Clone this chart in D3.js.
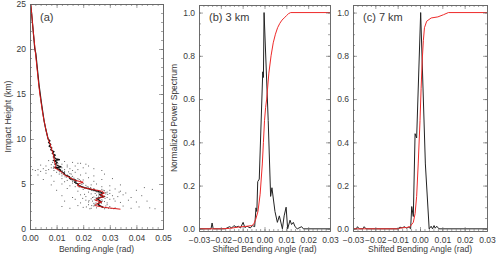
<!DOCTYPE html>
<html>
<head>
<meta charset="utf-8">
<script src="https://cdn.jsdelivr.net/npm/d3@7"></script>
<style>
  body { margin: 0; background: #fff; }
  svg { display: block; }
  text { font-family: "Liberation Sans", Arial, sans-serif; }
</style>
</head>
<body>
<svg id="chart" width="500" height="259"></svg>
<script>
// ---- données panneau (a) : [hauteur km, angle rad]
const redProfile = [
  [25,0.0003],[22,0.0012],[20,0.0019],[18,0.0026],[16,0.0033],[15,0.0037],[14,0.0042],
  [13,0.0047],[12,0.0053],[11,0.0060],[10,0.0068],[9.5,0.0075],[9,0.0080],[8.5,0.0085],
  [8,0.0090],[7.5,0.0092],[7.2,0.0095],[7.0,0.0098],[6.8,0.0092],[6.6,0.0105],[6.3,0.0120],
  [6.0,0.0130],[5.7,0.0150],[5.4,0.0170],[5.2,0.0200],[5.0,0.0180],[4.8,0.0178],[4.6,0.0200],
  [4.4,0.0235],[4.2,0.0270],[4.0,0.0280],[3.8,0.0265],[3.6,0.0280],[3.4,0.0255],[3.2,0.0245],
  [3.0,0.0270],[2.8,0.0250],[2.6,0.0245],[2.4,0.0280],[2.2,0.0340]
];
const blackProfile = [
  [25,0.0002],[24,0.0006],[22,0.0012],[20,0.0018],[19.5,0.0022],[18,0.0027],[16,0.0034],
  [14,0.0043],[12,0.0053],[11,0.0060],[10,0.0068],[9.8,0.0075],[9.6,0.0070],[9.4,0.0078],
  [9.2,0.0072],[9.0,0.0082],[8.8,0.0078],[8.6,0.0090],[8.4,0.0084],[8.2,0.0095],[8.0,0.0088],
  [7.8,0.0098],[7.7,0.0112],[7.6,0.0090],[7.4,0.0102],[7.2,0.0094],[7.0,0.0108],[6.9,0.0118],
  [6.8,0.0095],[6.6,0.0112],[6.4,0.0118],[6.2,0.0128],[6.0,0.0132],[5.8,0.0148],[5.6,0.0150],
  [5.4,0.0172],[5.2,0.0168],[5.0,0.0180],[4.8,0.0185],[4.6,0.0205],[4.4,0.0230],[4.2,0.0255],
  [4.0,0.0275],[3.8,0.0262],[3.6,0.0278],[3.4,0.0252],[3.2,0.0260],[3.0,0.0268],[2.8,0.0255],
  [2.6,0.0262],[2.4,0.0275]
];
// nuage de points : [angle rad, hauteur km]
const scatterPts = [
  [0.007,7.6],[0.011,7.7],[0.013,7.5],[0.016,7.4],[0.009,7.8],[0.018,7.3],[0.021,7.2],
  [0.004,7.1],[0.006,7.0],[0.012,7.2],[0.014,7.1],[0.017,7.0],[0.019,7.3],[0.022,7.0],[0.010,7.3],[0.008,7.15],
  [0.001,6.6],[0.002,6.5],[0.003,6.6],[0.004,6.4],[0.005,6.7],[0.006,6.5],[0.007,6.6],[0.008,6.8],
  [0.009,6.5],[0.010,6.9],[0.011,6.7],[0.012,6.8],[0.013,6.6],[0.014,6.9],[0.015,6.7],[0.016,6.5],
  [0.018,6.6],[0.020,6.8],[0.024,6.7],[0.027,6.5],[0.009,6.95],[0.011,6.45],[0.013,6.4],[0.0105,6.55],[0.0115,6.62],
  [0.003,6.0],[0.006,6.2],[0.008,5.9],[0.010,6.3],[0.011,6.1],[0.012,5.9],[0.013,6.25],[0.014,6.0],
  [0.015,6.15],[0.016,5.85],[0.017,6.3],[0.019,6.0],[0.021,6.2],[0.024,5.9],[0.028,6.1],[0.0125,6.05],
  [0.0135,5.95],[0.0145,6.35],[0.0155,6.1],
  [0.005,5.5],[0.009,5.3],[0.012,5.6],[0.014,5.4],[0.015,5.7],[0.016,5.3],[0.017,5.5],[0.018,5.6],
  [0.019,5.35],[0.020,5.45],[0.022,5.7],[0.024,5.3],[0.027,5.5],[0.031,5.6],[0.0165,5.65],[0.0175,5.25],
  [0.0185,5.5],[0.013,5.25],
  [0.008,4.9],[0.012,5.0],[0.015,4.8],[0.016,5.1],[0.017,4.7],[0.018,4.95],[0.019,4.75],[0.020,5.05],
  [0.021,4.85],[0.022,4.65],[0.023,4.9],[0.025,5.0],[0.027,4.7],[0.030,4.8],[0.034,4.9],[0.043,4.6],
  [0.0185,4.65],[0.0195,5.15],
  [0.010,4.3],[0.014,4.5],[0.018,4.2],[0.020,4.4],[0.022,4.1],[0.023,4.35],[0.024,4.5],[0.025,4.2],
  [0.026,4.05],[0.027,4.4],[0.028,4.25],[0.029,4.1],[0.030,4.3],[0.032,4.45],[0.034,4.2],[0.036,4.0],
  [0.040,4.3],[0.046,4.4],[0.0255,4.3],[0.0265,4.15],
  [0.012,3.7],[0.016,3.5],[0.019,3.8],[0.021,3.6],[0.023,3.9],[0.024,3.55],[0.025,3.75],[0.026,3.45],
  [0.027,3.85],[0.028,3.65],[0.029,3.5],[0.030,3.95],[0.031,3.7],[0.033,3.6],[0.035,3.8],[0.038,3.5],
  [0.042,3.7],[0.0275,3.55],[0.0285,3.9],[0.0245,3.95],
  [0.013,3.1],[0.017,3.3],[0.019,2.9],[0.021,3.2],[0.022,3.0],[0.023,3.35],[0.024,2.85],[0.025,3.15],
  [0.026,2.95],[0.027,3.25],[0.028,3.05],[0.029,2.9],[0.030,3.3],[0.032,3.1],[0.034,2.95],[0.037,3.2],
  [0.040,3.0],[0.044,3.1],[0.0235,3.1],[0.0255,3.3],
  [0.012,2.5],[0.015,2.3],[0.018,2.6],[0.020,2.4],[0.022,2.7],[0.023,2.3],[0.024,2.55],[0.025,2.35],
  [0.026,2.65],[0.027,2.45],[0.028,2.25],[0.030,2.5],[0.032,2.35],[0.035,2.55],[0.038,2.3],[0.041,2.45],
  [0.045,2.35],[0.047,2.25],[0.0245,2.75],[0.029,2.7],
  // points serrés autour du profil
  [0.0085,7.4],[0.0095,7.55],[0.0105,7.25],[0.0088,6.75],[0.0098,6.85],[0.0108,6.6],[0.0112,6.35],
  [0.0122,6.45],[0.0118,6.15],[0.0128,6.2],[0.0132,5.8],[0.0142,5.9],[0.0138,5.75],[0.0148,5.6],
  [0.0152,5.5],[0.0158,5.45],[0.0162,5.35],[0.0168,5.2],[0.0172,5.05],[0.0178,5.0],[0.0182,4.9],
  [0.0188,4.85],[0.0192,4.7],[0.0198,4.6],[0.0205,4.55],[0.0212,4.5],[0.0218,4.45],[0.0225,4.4],
  [0.0232,4.3],[0.0238,4.25],[0.0245,4.2],[0.0252,4.1],[0.0258,4.0],[0.0262,3.9],[0.0268,3.8],
  [0.0272,3.7],[0.0258,3.65],[0.0265,3.55],[0.0248,3.45],[0.0252,3.35],[0.0242,3.25],[0.0262,3.2],
  [0.0272,3.1],[0.0258,3.0],[0.0248,2.9],[0.0268,2.85],[0.0252,2.75],[0.0242,2.65],[0.0258,2.6],
  [0.0268,2.5],[0.0275,2.4],[0.0285,2.35],[0.0295,2.3],[0.0305,2.28],[0.0315,2.25],
  [0.0155,5.75],[0.0165,5.55],[0.0175,5.4],[0.0195,4.95],[0.0215,4.7],[0.0228,4.6],[0.0242,4.4],
  [0.0275,4.3],[0.0285,4.05],[0.0292,3.85],[0.0282,3.4],[0.0235,3.5],[0.0222,3.15],[0.0232,2.6],
  [0.0285,2.55],[0.0212,2.45],[0.0225,2.25],[0.0198,3.4],[0.0205,3.85],[0.0335,4.1],[0.0315,3.35]
];

// ---- données panneau (b) 3 km : [angle décalé, valeur]
const spec3km = [
  [-0.03,0],[-0.0245,0],[-0.024,0.027],[-0.0235,0],[-0.018,0],[-0.016,0.01],[-0.015,0.004],
  [-0.014,0.015],[-0.013,0.008],[-0.012,0.012],[-0.011,0.004],[-0.0098,0.03],[-0.009,0.006],
  [-0.008,0.012],[-0.0065,0.004],[-0.0055,0.015],[-0.0045,0.01],[-0.0039,0.097],[-0.0035,0.08],
  [-0.0031,0.218],[-0.0024,0.23],[-0.0008,0.726],[-0.0005,0.70],[-0.0002,1.0],[0.0017,0.5],
  [0.0028,0.15],[0.0034,0.19],[0.0048,0.08],[0.0059,0.03],[0.0068,0.06],[0.0082,0.0],[0.009,0.06],
  [0.0099,0.1],[0.0106,0.0],[0.0117,0.04],[0.0124,0.02],[0.0132,0.03],[0.014,0.01],[0.015,0.0],
  [0.017,0.01],[0.0178,0],[0.03,0]
];
const cdf3km = [
  [-0.03,0],[-0.02,0],[-0.016,0.002],[-0.012,0.008],[-0.008,0.012],[-0.006,0.015],[-0.005,0.02],
  [-0.004,0.045],[-0.003,0.08],[-0.002,0.16],[-0.001,0.3],[-0.0005,0.4],[0,0.5],[0.0005,0.56],
  [0.001,0.6],[0.002,0.72],[0.003,0.8],[0.004,0.86],[0.005,0.9],[0.006,0.93],[0.007,0.95],
  [0.008,0.965],[0.009,0.975],[0.010,0.985],[0.011,0.995],[0.012,1.0],[0.03,1.0]
];

// ---- données panneau (c) 7 km
const spec7km = [
  [-0.03,0],[-0.0285,0],[-0.028,0.01],[-0.0272,0],[-0.0255,0],[-0.025,0.01],[-0.0242,0],
  [-0.0095,0],[-0.009,0.008],[-0.008,0.004],[-0.007,0.01],[-0.006,0.003],[-0.005,0.008],
  [-0.0042,0.0],[-0.0037,0.103],[-0.003,0.057],[-0.0022,0.44],[-0.0015,0.42],[0.0003,1.0],
  [0.0024,0.3],[0.0041,0.0],[0.005,0.012],[0.0056,0.0],[0.0063,0.015],[0.0068,0.003],
  [0.0075,0.012],[0.0085,0.0],[0.03,0]
];
const cdf7km = [
  [-0.03,0],[-0.01,0],[-0.008,0.005],[-0.006,0.006],[-0.0045,0.01],[-0.003,0.03],[-0.0022,0.07],
  [-0.0015,0.15],[-0.0008,0.3],[0,0.5],[0.0005,0.65],[0.001,0.78],[0.0015,0.87],[0.002,0.93],
  [0.003,0.96],[0.005,0.975],[0.008,0.98],[0.0105,0.99],[0.0127,1.0],[0.03,1.0]
];

// ---- ticks
const ticksA_x = [0, 0.01, 0.02, 0.03, 0.04, 0.05];
const ticksA_y = [0, 5, 10, 15, 20, 25];
const ticksBC_x = [-0.03, -0.02, -0.01, 0, 0.01, 0.02, 0.03];
const ticksBC_y = [0, 0.2, 0.4, 0.6, 0.8, 1.0];

//---------------------------------------------------------------------------------------

const svg = d3.select("#chart");
const axisCol = "#666";
const textCol = "#3a3a3a";
const redCol = "#ee2a2a";
const fmt2 = d3.format(".2f");

// cadre IDL : ticks vers l'intérieur sur les 4 côtés
function drawFrame(x, y, o) {
  const [x0, x1] = x.range();
  const [y1, y0] = y.range();
  const g = svg.append("g");

  const minorX = d3.range(x.domain()[0], x.domain()[1] + 1e-9, o.minX);
  const minorY = d3.range(o.yMin, y.domain()[1] + 1e-9, o.minY);

  const parts = [
    [d3.axisBottom(x).tickValues(o.tx).tickSize(-4).tickPadding(6).tickFormat(o.fx), y1, 0],
    [d3.axisBottom(x).tickValues(minorX).tickSize(-2).tickFormat(""), y1, 0],
    [d3.axisTop(x).tickValues(o.tx).tickSize(-4).tickFormat(""), y0, 0],
    [d3.axisTop(x).tickValues(minorX).tickSize(-2).tickFormat(""), y0, 0],
    [d3.axisLeft(y).tickValues(o.ty).tickSize(-4).tickPadding(4).tickFormat(o.fy), 0, x0],
    [d3.axisLeft(y).tickValues(minorY).tickSize(-2).tickFormat(""), 0, x0],
    [d3.axisRight(y).tickValues(o.ty).tickSize(-4).tickFormat(""), 0, x1],
    [d3.axisRight(y).tickValues(minorY).tickSize(-2).tickFormat(""), 0, x1]
  ];
  for (const [ax, ty, tx] of parts) {
    const a = g.append("g").attr("transform", `translate(${tx},${ty})`).call(ax.tickSizeOuter(0));
    a.select(".domain").attr("stroke", axisCol).attr("stroke-width", 0.8);
    a.selectAll(".tick line").attr("stroke", axisCol).attr("stroke-width", 0.6);
    a.selectAll("text").attr("fill", textCol).attr("font-size", 8.5);
  }

  // titres
  g.append("text")
    .attr("x", (x0 + x1) / 2).attr("y", 252)
    .attr("text-anchor", "middle").attr("font-size", 8.5).attr("fill", textCol)
    .text(o.xTitle);
  if (o.yTitle) {
    g.append("text")
      .attr("transform", `translate(${o.yTitleX},${(y0 + y1) / 2}) rotate(-90)`)
      .attr("text-anchor", "middle").attr("font-size", 8.5).attr("fill", textCol)
      .text(o.yTitle);
  }
  g.append("text")
    .attr("x", x0 + 10).attr("y", 21)
    .attr("font-size", 11).attr("fill", textCol)
    .text(o.label);
}

//---------------------------------------------------------------------------------------
// Panneau (a)

const xA = d3.scaleLinear().domain([0, 0.05]).range([30, 163]);
const yA = d3.scaleLinear().domain([0, 25]).range([229, 4]);

svg.append("g").selectAll("rect")
  .data(scatterPts)
  .join("rect")
  .attr("x", d => xA(d[0]) - 0.5)
  .attr("y", d => yA(d[1]) - 0.5)
  .attr("width", 1).attr("height", 1)
  .attr("fill", "#222").attr("opacity", 0.7);

const lineA = d3.line().x(d => xA(d[1])).y(d => yA(d[0]));
svg.append("path").attr("d", lineA(blackProfile))
  .attr("fill", "none").attr("stroke", "#111").attr("stroke-width", 1.2);
svg.append("path").attr("d", lineA(redProfile))
  .attr("fill", "none").attr("stroke", "#d81818").attr("stroke-width", 1);

drawFrame(xA, yA, {
  tx: ticksA_x, ty: ticksA_y, minX: 0.002, minY: 1, yMin: 0,
  fx: fmt2, fy: d3.format("d"),
  xTitle: "Bending Angle (rad)", yTitle: "Impact Height (km)", yTitleX: 11,
  label: "(a)"
});

//---------------------------------------------------------------------------------------
// Panneaux (b) et (c)

function spectrumPanel(x0, x1, spec, cdf, label, yTitle) {
  const x = d3.scaleLinear().domain([-0.03, 0.03]).range([x0, x1]);
  const y = d3.scaleLinear().domain([-0.01, 1.035]).range([231, 5]);
  const line = d3.line().x(d => x(d[0])).y(d => y(d[1]));
  svg.append("path").attr("d", line(spec))
    .attr("fill", "none").attr("stroke", "#222").attr("stroke-width", 1);
  svg.append("path").attr("d", line(cdf))
    .attr("fill", "none").attr("stroke", redCol).attr("stroke-width", 1);
  drawFrame(x, y, {
    tx: ticksBC_x, ty: ticksBC_y, minX: 0.002, minY: 0.05, yMin: 0,
    fx: fmt2, fy: d3.format(".1f"),
    xTitle: "Shifted Bending Angle (rad)", yTitle: yTitle, yTitleX: x0 - 22,
    label: label
  });
}

spectrumPanel(199, 330, spec3km, cdf3km, "(b) 3 km", "Normalized Power Spectrum");
spectrumPanel(353, 487, spec7km, cdf7km, "(c) 7 km", null);
</script>
</body>
</html>
